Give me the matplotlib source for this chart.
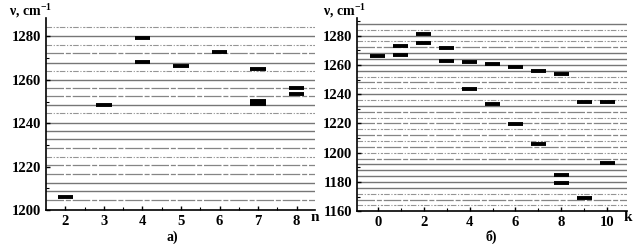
import numpy as np
import matplotlib.pyplot as plt

plt.rcParams['font.family'] = ['Liberation Serif', 'DejaVu Serif']
plt.rcParams['mathtext.default'] = 'regular'

# panel a): levels (cm-1) and the marked states
levels_a = [1204.6, 1208.8, 1212.6, 1216.6, 1220.7, 1224.6, 1228.7, 1232.7, 1236.4,
            1240.0, 1244.8, 1248.3, 1252.4, 1256.2, 1260.0, 1264.2, 1268.0, 1272.4,
            1276.1, 1280.0, 1284.2]
style_a = ['b', 's', 's', 'b', 'b', 'd', 'b', 's', 's',
           's', 'd', 's', 'b', 'b', 's', 'd', 's', 'b',
           'd', 's', 'd']
n_bars = [2, 3, 4, 4, 5, 6, 7, 7, 7, 8, 8]
nu_a = [1206.2, 1248.3, 1268.2, 1279.2, 1266.2, 1273.0, 1265.0, 1250.5, 1249.0, 1256.2, 1253.3]

# panel б): levels and marked states
levels_b = [1164, 1168, 1172, 1176, 1180, 1184, 1188, 1192, 1196, 1200, 1204, 1208,
            1212, 1216, 1220, 1224, 1228, 1232, 1236, 1240, 1244, 1248, 1252, 1256,
            1260, 1264, 1268, 1272, 1276, 1280, 1284, 1288]
style_b = ['d', 'b', 'd', 's', 's', 's', 's', 's', 'b', 'd', 'b', 'd',
           'b', 'd', 'b', 'd', 'b', 's', 'd', 's', 'd', 'b', 'd', 's',
           's', 's', 's', 'b', 'd', 's', 'd', 's']
k_bars = [0, 1, 1, 2, 2, 3, 3, 4, 4, 5, 5, 6, 6, 7, 7, 8, 8, 8, 9, 9, 10, 10]
nu_b = [1265.9, 1272.7, 1266.8, 1281.1, 1275.0, 1271.8, 1262.9, 1261.8, 1243.7,
        1260.8, 1233.0, 1258.8, 1219.3, 1256.0, 1206.1, 1253.8, 1184.7, 1179.4,
        1235.0, 1169.3, 1235.0, 1193.3]

line_kw = {
    's': dict(color='#767676', lw=1.0, ls='-'),
    'b': dict(color='#858585', lw=0.9, ls=(0, (14, 1.5, 4, 1.5))),
    'd': dict(color='#959595', lw=0.8, ls=(0, (5, 1.5, 1, 1.5, 2, 1))),
}


def draw_panel(ax, levels, styles, xs, ys, half, xlim, ylim):
    for lev, st in zip(levels, styles):
        ax.axhline(lev, zorder=1, **line_kw[st])
    for x, y in zip(xs, ys):
        ax.plot([x - half, x + half], [y, y], color='black', lw=2.8,
                solid_capstyle='butt', zorder=3)
    ax.set_xlim(*xlim)
    ax.set_ylim(*ylim)
    for s in ['top', 'right']:
        ax.spines[s].set_visible(False)
    for s in ['left', 'bottom']:
        ax.spines[s].set_linewidth(1.2)
    ax.tick_params(direction='in', length=3, width=1, labelsize=10.5)
    ax.tick_params(which='minor', direction='in', length=2, width=0.8)
    for lab in ax.get_xticklabels() + ax.get_yticklabels():
        lab.set_fontweight('bold')


fig = plt.figure(figsize=(6.38, 2.44), dpi=100)
ax1 = fig.add_axes([0.072, 0.139, 0.422, 0.787])
ax2 = fig.add_axes([0.560, 0.134, 0.423, 0.792])

ax1.set_xticks(range(2, 9))
ax1.set_xticks(np.arange(2.5, 8.5, 1), minor=True)
ax1.set_yticks(range(1200, 1281, 20))
ax1.set_yticks(range(1210, 1290, 20), minor=True)
draw_panel(ax1, levels_a, style_a, n_bars, nu_a, 0.2, (1.5, 8.48), (1200, 1288.5))

ax2.set_xticks(range(0, 11, 2))
ax2.set_xticks(range(1, 11, 2), minor=True)
ax2.set_yticks(range(1160, 1281, 20))
ax2.set_yticks(range(1170, 1291, 20), minor=True)
draw_panel(ax2, levels_b, style_b, k_bars, nu_b, 0.33, (-0.9, 10.87), (1160, 1292))

fig.text(0.014, 0.955, 'ν, cm$^{-1}$', fontsize=10, fontweight='bold', va='center')
fig.text(0.507, 0.955, 'ν, cm$^{-1}$', fontsize=10, fontweight='bold', va='center')
fig.text(0.486, 0.095, 'n', fontsize=11, fontweight='bold')
fig.text(0.978, 0.095, 'k', fontsize=11, fontweight='bold')
fig.text(0.27, 0.0, 'а)', fontsize=10, fontweight='bold', ha='center', va='bottom')
fig.text(0.77, 0.0, 'б)', fontsize=10, fontweight='bold', ha='center', va='bottom')

fig.savefig('out.png', dpi=100)
